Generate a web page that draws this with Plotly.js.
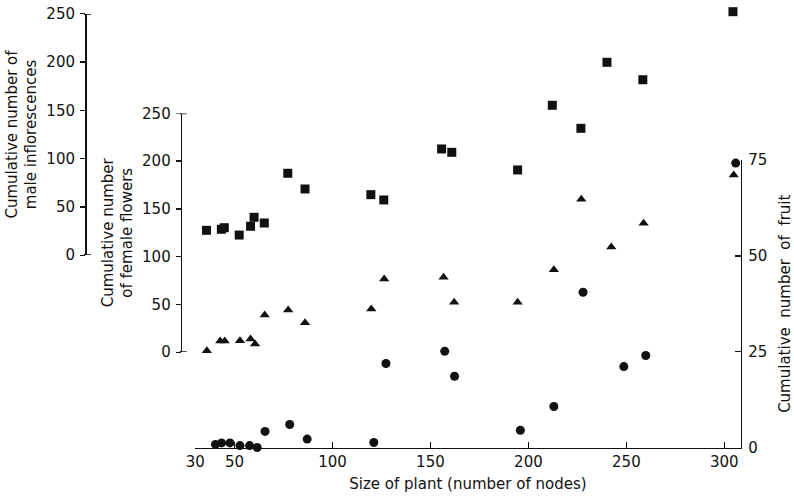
<!DOCTYPE html>
<html><head><meta charset="utf-8">
<script src="https://cdn.plot.ly/plotly-3.0.1.min.js"></script>
<style>html,body{margin:0;padding:0;background:#fff}#chart{width:794px;height:498px}</style>
</head><body><div id="chart"></div>
<script>
// ---- data ----
const plantSizeMale = [35.7,43.3,44.8,52.4,58.2,60.0,65.2,77.2,86.0,119.6,126.2,155.7,160.9,194.5,212.2,226.8,240.1,258.4,304.4];
const maleInflorescences = [25.6,26.7,28.3,20.7,29.8,39.1,33.2,84.8,68.5,62.6,57.1,110.0,106.5,88.2,155.3,131.4,199.9,181.8,252.4];
const plantSizeFemale = [35.9,42.7,45.0,52.8,58.2,60.5,65.4,77.4,86.0,119.8,126.4,156.7,162.1,194.5,213.0,227.0,242.3,258.8,304.8];
const femaleFlowers = [1.4,11.5,11.5,11.8,13.6,8.4,38.8,44.0,30.7,45.1,76.5,78.3,52.1,52.1,86.3,160.1,110.1,134.9,185.5];
const plantSizeFruit = [40.3,43.4,47.7,52.8,57.7,61.6,65.6,78.2,87.1,121.1,127.3,157.3,162.3,195.9,213.0,227.9,248.7,259.9,305.8];
const fruitCount = [0.8,1.2,1.2,0.5,0.5,0,4.2,6.0,2.2,1.3,21.9,25.1,18.6,4.5,10.7,40.5,21.1,24.0,74.2];
const xTickVals = [30,50,100,150,200,250,300];
const flowerTickVals = [0,50,100,150,200,250];
const flowerEndTicks = [0,250];
const fruitTickVals = [0,25,50,75];
const xTitle = 'Size of plant (number of nodes)';
const maleTitle = 'Cumulative number of<br>male inflorescences';
const femaleTitle = 'Cumulative number<br>of female flowers';
const fruitTitle = 'Cumulative\u00a0 number\u00a0 of\u00a0 fruit';

// ---- layout helpers (pixel -> paper) ----
const W = 794, H = 498;
const fx = p => p / W;
const fy = p => 1 - p / H;
const FONT = 'DejaVu Sans';
const ink = '#111';

const maleAxisX = 85, femaleAxisX = 180.7;
const maleZero = 255, maleTop = 14;           // pixel rows of 0 and 250
const femaleZero = 352, femaleTop = 113.5;
const maleExtTop = 4;                          // hidden axis reaches a bit higher
const maleExtMax = 250 * (maleZero - maleExtTop) / (maleZero - maleTop);

const traces = [
  {x: plantSizeMale, y: maleInflorescences, yaxis: 'y4', type: 'scatter', mode: 'markers',
   marker: {symbol: 'square', size: 9, color: ink}, cliponaxis: false, showlegend: false},
  {x: plantSizeFemale, y: femaleFlowers, yaxis: 'y2', type: 'scatter', mode: 'markers',
   marker: {symbol: 'triangle-up', size: 9, color: ink}, cliponaxis: false, showlegend: false},
  {x: plantSizeFruit, y: fruitCount, yaxis: 'y', type: 'scatter', mode: 'markers',
   marker: {symbol: 'circle', size: 9, color: ink}, cliponaxis: false, showlegend: false}
];

const tfont = {family: FONT, size: 15, color: ink};
const common = {showgrid: false, zeroline: false, showline: true, linecolor: ink, linewidth: 1.6,
  tickcolor: ink, tickwidth: 1.5, tickfont: tfont};

const flowerAxis = (domain, pos, title) => Object.assign({}, common, {
  domain: domain, range: [0, 250], anchor: 'free', position: pos, side: 'left',
  tickmode: 'array', tickvals: flowerTickVals, ticks: 'outside', ticklen: 5, ticklabelstandoff: 2,
  title: {text: title, font: tfont, standoff: 4}
});

// bracket-style ends: stub to the right of the line, no stub to the left
const stubs = [];
[['y3', maleAxisX], ['y2', femaleAxisX]].forEach(([ref, xp]) => {
  flowerEndTicks.forEach(v => {
    stubs.push({type: 'line', xref: 'paper', yref: ref, x0: fx(xp - 6), x1: fx(xp - 0.9), y0: v, y1: v,
                line: {color: '#fff', width: 2.5}, layer: 'above'});
    stubs.push({type: 'line', xref: 'paper', yref: ref, x0: fx(xp - 0.8), x1: fx(xp + 6), y0: v, y1: v,
                line: {color: ink, width: 1.5}, layer: 'above'});
  });
});

const layout = {
  width: W, height: H, margin: {l: 0, r: 0, t: 0, b: 0},
  paper_bgcolor: '#fff', plot_bgcolor: 'rgba(0,0,0,0)', showlegend: false,
  xaxis: Object.assign({}, common, {
    domain: [fx(195.3), fx(740.6)], range: [30, 308.3], anchor: 'y',
    tickmode: 'array', tickvals: xTickVals, ticks: 'inside', ticklen: 6,
    title: {text: xTitle, font: tfont, standoff: 8}
  }),
  yaxis: Object.assign({}, common, {
    domain: [fy(447.5), fy(160)], range: [0, 75], anchor: 'x', side: 'right',
    tickmode: 'array', tickvals: fruitTickVals, ticks: 'inside', ticklen: 6, ticklabelstandoff: 3,
    title: {text: fruitTitle, font: tfont, standoff: 14}
  }),
  yaxis2: flowerAxis([fy(femaleZero), fy(femaleTop)], fx(femaleAxisX), femaleTitle),
  yaxis3: flowerAxis([fy(maleZero), fy(maleTop)], fx(maleAxisX), maleTitle),
  yaxis4: {domain: [fy(maleZero), fy(maleExtTop)], range: [0, maleExtMax], anchor: 'free',
           position: fx(maleAxisX), visible: false, showgrid: false, zeroline: false},
  shapes: stubs
};

Plotly.newPlot('chart', traces, layout, {displayModeBar: false, staticPlot: true});
</script>
</body></html>
